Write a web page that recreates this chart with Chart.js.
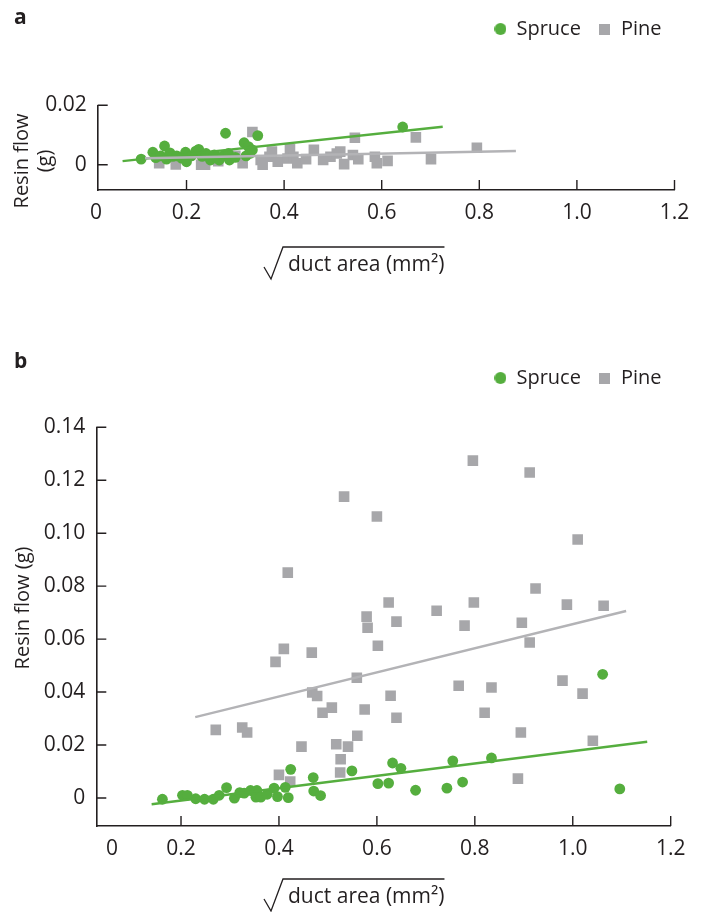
<!DOCTYPE html>
<html><head><meta charset="utf-8">
<script src="https://cdn.jsdelivr.net/npm/chart.js@4/dist/chart.umd.min.js"></script>
<style>
html,body{margin:0;padding:0;background:#fff;width:702px;height:912px;overflow:hidden}
.wrap{position:absolute;left:0;width:702px}
#wa{top:0;height:300px}
#wb{top:348px;height:564px}
canvas{display:block}
</style></head><body>
<div class="wrap" id="wa"><canvas id="ca" width="702" height="300"></canvas></div>
<div class="wrap" id="wb"><canvas id="cb" width="702" height="564"></canvas></div>
<script>
// ---------- DATA ----------
const seriesNames = ['Spruce', 'Pine'];

// Panel a
const spruceA_x = [0.107,0.131,0.137,0.147,0.155,0.159,0.166,0.172,0.180,0.190,0.198,0.200,0.210,0.219,0.225,0.232,0.240,0.249,0.257,0.267,0.275,0.280,0.286,0.288,0.300,0.318,0.322,0.327,0.330,0.335,0.346,0.643];
const spruceA_y = [0.0019,0.0042,0.0024,0.0030,0.0063,0.0019,0.0040,0.0028,0.0030,0.0022,0.0042,0.0010,0.0030,0.0046,0.0052,0.0028,0.0038,0.0016,0.0033,0.0016,0.0030,0.0106,0.0038,0.0016,0.0025,0.0074,0.0030,0.0061,0.0038,0.0050,0.0098,0.0127];
const pineA_x = [0.144,0.178,0.230,0.238,0.265,0.300,0.315,0.335,0.352,0.356,0.370,0.375,0.387,0.407,0.412,0.419,0.427,0.445,0.461,0.480,0.495,0.508,0.515,0.523,0.541,0.545,0.552,0.586,0.590,0.612,0.670,0.701,0.795];
const pineA_y = [0.0005,0.0001,0.0000,0.0000,0.0012,0.0030,0.0005,0.0110,0.0016,0.0000,0.0027,0.0044,0.0010,0.0021,0.0052,0.0027,0.0005,0.0019,0.0050,0.0016,0.0027,0.0038,0.0044,0.0002,0.0033,0.0091,0.0019,0.0027,0.0005,0.0013,0.0092,0.0019,0.0057];
const spruceFitA_x = [0.069, 0.725];
const spruceFitA_y = [0.0012, 0.0128];
const pineFitA_x = [0.115, 0.875];
const pineFitA_y = [0.0022, 0.0046];

// Panel b
const spruceB_x = [0.162,0.203,0.213,0.230,0.248,0.266,0.278,0.293,0.309,0.320,0.329,0.342,0.355,0.353,0.363,0.376,0.390,0.397,0.413,0.419,0.424,0.470,0.471,0.485,0.549,0.602,0.624,0.632,0.649,0.679,0.743,0.755,0.775,0.834,1.061,1.096];
const spruceB_y = [-0.0005,0.0010,0.0010,-0.0003,-0.0005,-0.0005,0.0010,0.0039,-0.0001,0.0020,0.0018,0.0028,0.0028,0.0003,0.0003,0.0014,0.0037,0.0005,0.0040,0.0001,0.0108,0.0077,0.0026,0.0009,0.0102,0.0054,0.0056,0.0132,0.0112,0.0029,0.0037,0.0140,0.0060,0.0151,0.0467,0.0034];
const pineB_x = [0.533,0.418,0.393,0.410,0.467,0.468,0.478,0.489,0.508,0.271,0.325,0.335,0.446,0.517,0.541,0.526,0.525,0.400,0.423,0.796,0.912,0.600,1.010,0.924,0.624,0.798,0.988,1.063,0.722,0.579,0.581,0.640,0.779,0.896,0.912,0.602,0.559,0.979,0.767,0.834,1.020,0.628,0.575,0.820,0.640,0.560,0.894,1.041,0.888];
const pineB_y = [0.1138,0.0851,0.0514,0.0563,0.0549,0.0398,0.0385,0.0322,0.0341,0.0257,0.0266,0.0247,0.0194,0.0203,0.0194,0.0146,0.0096,0.0087,0.0062,0.1274,0.1229,0.1063,0.0976,0.0791,0.0738,0.0738,0.0730,0.0726,0.0707,0.0685,0.0643,0.0666,0.0651,0.0662,0.0587,0.0575,0.0454,0.0443,0.0424,0.0417,0.0394,0.0386,0.0334,0.0322,0.0303,0.0235,0.0247,0.0216,0.0073];
const spruceFitB_x = [0.140, 1.152];
const spruceFitB_y = [-0.0024, 0.0212];
const pineFitB_x = [0.229, 1.109];
const pineFitB_y = [0.0305, 0.0706];

// Ticks
const xTickValues = [0.2, 0.4, 0.6, 0.8, 1.0, 1.2];
const xTickLabels = ['0.2', '0.4', '0.6', '0.8', '1.0', '1.2'];
const yTicksA = [0, 0.02];
const yTickLabelsA = ['0', '0.02'];
const yTicksB = [0, 0.02, 0.04, 0.06, 0.08, 0.10, 0.12, 0.14];
const yTickLabelsB = ['0', '0.02', '0.04', '0.06', '0.08', '0.10', '0.12', '0.14'];
const yTitleA = ['Resin flow', '(g)'];
const yTitleB = ['Resin flow (g)'];
const xTitle = 'duct area (mm\u00B2)';

// ---------- STYLE ----------
const GREEN = '#55ae3e';
const GREY = '#a7a7aa';
const GREY_LINE = '#b3b3b6';
const INK = '#231f20';
const FONT = '"Open Sans", "Noto Sans", sans-serif';

const zip = (xs, ys) => xs.map((x, i) => ({x: x, y: ys[i]}));

function markerCanvas(kind, size, color) {
  const c = document.createElement('canvas');
  c.width = size; c.height = size;
  const g = c.getContext('2d');
  g.fillStyle = color;
  if (kind === 'circle') { g.beginPath(); g.arc(size / 2, size / 2, size / 2, 0, Math.PI * 2); g.fill(); }
  else { g.fillRect(0, 0, size, size); }
  return c;
}
const legendMarkers = [markerCanvas('circle', 12, GREEN), markerCanvas('rect', 11, GREY)];

const inwardTicks = {
  id: 'inwardTicks',
  afterDatasetsDraw(chart, args, o) {
    const ctx = chart.ctx, xs = chart.scales.x, ys = chart.scales.y;
    ctx.save();
    ctx.strokeStyle = INK; ctx.lineWidth = 1.4;
    ctx.beginPath();
    o.xValues.forEach(v => {
      const px = xs.getPixelForValue(v);
      ctx.moveTo(px, xs.top); ctx.lineTo(px, xs.top - o.len);
    });
    o.yValues.forEach(v => {
      const py = ys.getPixelForValue(v);
      ctx.moveTo(ys.right, py); ctx.lineTo(ys.right + o.len, py);
    });
    ctx.stroke();
    ctx.restore();
  }
};

const annot = {
  id: 'annot',
  afterDraw(chart, args, o) {
    const ctx = chart.ctx;
    ctx.save();
    ctx.fillStyle = INK;
    ctx.font = 'bold 21px ' + FONT;
    ctx.textAlign = 'left'; ctx.textBaseline = 'alphabetic';
    ctx.fillText(o.panel, o.panelX, o.panelY);
    ctx.font = '20px ' + FONT;
    ctx.textAlign = 'center'; ctx.textBaseline = 'middle';
    o.yTitle.forEach((line, i) => {
      ctx.save();
      ctx.translate(o.yTitleX + i * o.yTitleStep, o.yTitleY);
      ctx.rotate(-Math.PI / 2);
      ctx.fillText(line, 0, 0);
      ctx.restore();
    });
    ctx.font = '21px ' + FONT;
    ctx.textAlign = 'left'; ctx.textBaseline = 'middle';
    ctx.fillText(o.xTitle, o.xTitleX, o.xTitleY);
    const w = ctx.measureText(o.xTitle).width;
    const top = o.xTitleY - 18, bot = o.xTitleY + 14, x0 = o.xTitleX;
    ctx.strokeStyle = INK; ctx.lineWidth = 1.3;
    ctx.beginPath();
    ctx.moveTo(x0 - 24, o.xTitleY + 2);
    ctx.lineTo(x0 - 17, bot);
    ctx.lineTo(x0 - 5, top);
    ctx.lineTo(x0 + w, top);
    ctx.stroke();
    ctx.restore();
  }
};

const legendSpacer = {
  id: 'legendSpacer',
  beforeInit(chart, args, o) {
    const lg = chart.legend;
    if (!lg) return;
    const fit = lg.fit;
    lg.fit = function () { fit.call(this); this.height = o.height; };
  },
  afterLayout(chart, args, o) {
    const lg = chart.legend;
    if (!lg) return;
    lg.left += o.dx; lg.right += o.dx;
  }
};

function makeChart(el, cfg) {
  const datasets = [
    {label: seriesNames[0], data: zip(cfg.sx, cfg.sy), pointStyle: 'circle', pointRadius: 5.4,
     backgroundColor: GREEN, pointBackgroundColor: GREEN, borderWidth: 0, pointBorderWidth: 0, order: 3},
    {label: seriesNames[1], data: zip(cfg.px, cfg.py), pointStyle: 'rect', pointRadius: 7.5,
     backgroundColor: GREY, pointBackgroundColor: GREY, borderWidth: 0, pointBorderWidth: 0, order: 4},
    {label: 'spruce fit', type: 'line', data: zip(cfg.sfx, cfg.sfy), borderColor: GREEN, borderWidth: 2.4,
     pointRadius: 0, fill: false, order: 2},
    {label: 'pine fit', type: 'line', data: zip(cfg.pfx, cfg.pfy), borderColor: GREY_LINE, borderWidth: 2.4,
     pointRadius: 0, fill: false, order: 1}
  ];
  const xAll = [cfg.zeroPos].concat(xTickValues);
  return new Chart(el, {
    type: 'scatter',
    data: {datasets: datasets},
    plugins: [inwardTicks, annot, legendSpacer],
    options: {
      responsive: false, animation: false, events: [],
      layout: {padding: {left: 0, right: cfg.padRight, top: cfg.padTop, bottom: 0}},
      scales: {
        x: {
          type: 'linear', min: cfg.xMin, max: 1.2,
          grid: {display: false, drawTicks: false},
          border: {display: true, color: INK, width: 1.6},
          afterBuildTicks: s => { s.ticks = xAll.map(v => ({value: v})); },
          afterFit: s => { s.height = cfg.xHeight; },
          ticks: {
            autoSkip: false, maxRotation: 0, padding: cfg.xPad, color: INK,
            font: {family: FONT, size: 21},
            callback: (v, i) => (i === 0 ? '0' : xTickLabels[i - 1])
          }
        },
        y: {
          type: 'linear', min: cfg.yMin, max: cfg.yMax,
          grid: {display: false, drawTicks: false},
          border: {display: true, color: INK, width: 1.6},
          afterBuildTicks: s => { s.ticks = cfg.yTicks.map(v => ({value: v})); },
          afterFit: s => { s.width = cfg.yWidth; },
          ticks: {
            autoSkip: false, padding: 11, color: INK,
            font: {family: FONT, size: 21},
            callback: (v, i) => cfg.yLabels[i]
          }
        }
      },
      plugins: {
        tooltip: {enabled: false},
        legend: {
          display: true, position: 'top', align: 'end',
          labels: {
            usePointStyle: true, boxWidth: 12, boxHeight: 11, padding: 18, color: INK,
            font: {family: FONT, size: 20},
            filter: item => item.datasetIndex < 2,
            generateLabels: chart => {
              const items = Chart.defaults.plugins.legend.labels.generateLabels(chart);
              items.forEach(it => { if (it.datasetIndex < 2) it.pointStyle = legendMarkers[it.datasetIndex]; });
              return items;
            }
          }
        },
        legendSpacer: {height: cfg.legendH, dx: cfg.legendDx},
        inwardTicks: {xValues: xTickValues, yValues: cfg.yTicks, len: 10},
        annot: cfg.annot
      }
    }
  });
}

makeChart(document.getElementById('ca'), {
  sx: spruceA_x, sy: spruceA_y, px: pineA_x, py: pineA_y,
  sfx: spruceFitA_x, sfy: spruceFitA_y, pfx: pineFitA_x, pfy: pineFitA_y,
  xMin: 0.018, zeroPos: 0.0145, yMin: -0.0085, yMax: 0.02,
  yTicks: yTicksA, yLabels: yTickLabelsA,
  padRight: 27.5, padTop: 1, legendH: 104.3, legendDx: 5, xHeight: 110, yWidth: 97.7, xPad: 10,
  annot: {panel: 'a', panelX: 14, panelY: 24, yTitle: yTitleA, yTitleX: 22.5, yTitleStep: 22.5, yTitleY: 161,
          xTitle: xTitle, xTitleX: 288, xTitleY: 265}
});

makeChart(document.getElementById('cb'), {
  sx: spruceB_x, sy: spruceB_y, px: pineB_x, py: pineB_y,
  sfx: spruceFitB_x, sfy: spruceFitB_y, pfx: pineFitB_x, pfy: pineFitB_y,
  xMin: 0.027, zeroPos: 0.059, yMin: -0.0106, yMax: 0.14,
  yTicks: yTicksB, yLabels: yTickLabelsB,
  padRight: 31.3, padTop: 2, legendH: 77.3, legendDx: 8.8, xHeight: 86, yWidth: 96.3, xPad: 10,
  annot: {panel: 'b', panelX: 14, panelY: 20, yTitle: yTitleB, yTitleX: 23, yTitleStep: 0, yTitleY: 260,
          xTitle: xTitle, xTitleX: 288, xTitleY: 549}
});
</script>
</body></html>
